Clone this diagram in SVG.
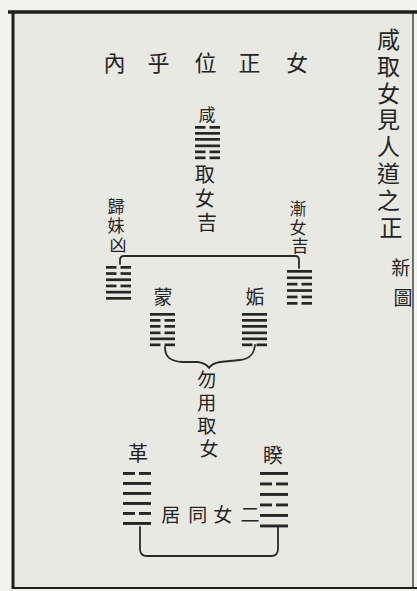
<svg xmlns="http://www.w3.org/2000/svg" xmlns:xlink="http://www.w3.org/1999/xlink" width="417" height="591" viewBox="0 0 417 591">
<style>
  .t { font-family: "Noto Sans CJK TC", "Noto Sans CJK SC", sans-serif; fill: #242424; text-anchor: middle; }
  .ln { fill: #262626; }
  .con { fill: none; stroke: #2a2a2a; stroke-width: 1.8; stroke-linecap: round; stroke-linejoin: round; }
  .frame { stroke: #1e1e1e; fill: none; }
</style>
<defs>
  <g id="yang"><rect x="0" y="0" width="25" height="2.7" class="ln"/></g>
  <g id="yin"><rect x="0" y="0" width="10.5" height="2.7" class="ln"/><rect x="14.5" y="0" width="10.5" height="2.7" class="ln"/></g>
  <g id="yangL"><rect x="0" y="0" width="28" height="2.9" class="ln"/></g>
  <g id="yinL"><rect x="0" y="0" width="12" height="2.9" class="ln"/><rect x="16" y="0" width="12" height="2.9" class="ln"/></g>
</defs>

<rect x="0" y="0" width="417" height="591" fill="#f2f2ef"/>
<rect x="13" y="12" width="401" height="576" fill="#e9e9e4"/>

<g id="frame" class="frame">
  <line x1="8" y1="12" x2="417" y2="12" stroke-width="3.5"/>
  <line x1="13" y1="11" x2="13" y2="589" stroke-width="3"/>
  <line x1="12" y1="588" x2="417" y2="588" stroke-width="2"/>
  <line x1="413" y1="12" x2="413" y2="588" stroke-width="1.2"/>
</g>

<g id="title">
  <text class="t" font-size="23">
    <tspan x="391" y="48">咸</tspan>
    <tspan x="391" y="75">取</tspan>
    <tspan x="391" y="102">女</tspan>
    <tspan x="391" y="128">見</tspan>
    <tspan x="391" y="155">人</tspan>
    <tspan x="391" y="182">道</tspan>
    <tspan x="391" y="209">之</tspan>
    <tspan x="391" y="236">正</tspan>
  </text>
  <text class="t" font-size="19">
    <tspan x="403" y="275">新</tspan>
    <tspan x="403" y="305">圖</tspan>
  </text>
</g>

<g id="header">
  <text class="t" font-size="22">
    <tspan x="117" y="71">內</tspan>
    <tspan x="161" y="71">乎</tspan>
    <tspan x="208" y="71">位</tspan>
    <tspan x="252" y="71">正</tspan>
    <tspan x="297" y="71">女</tspan>
  </text>
</g>

<g id="xian">
  <text class="t" font-size="17" x="207" y="121">咸</text>
  <g transform="translate(195,126)">
    <use xlink:href="#yin" y="0"/>
    <use xlink:href="#yang" y="6"/>
    <use xlink:href="#yang" y="12"/>
    <use xlink:href="#yang" y="18.5"/>
    <use xlink:href="#yin" y="24.5"/>
    <use xlink:href="#yin" y="30.5"/>
  </g>
  <text class="t" font-size="20">
    <tspan x="207" y="182">取</tspan>
    <tspan x="207" y="206">女</tspan>
    <tspan x="207" y="230">吉</tspan>
  </text>
</g>

<g id="guimei">
  <text class="t" font-size="17">
    <tspan x="118" y="213">歸</tspan>
    <tspan x="118" y="232">妹</tspan>
    <tspan x="118" y="251">凶</tspan>
  </text>
  <g transform="translate(106,266)">
    <use xlink:href="#yin" y="0"/>
    <use xlink:href="#yin" y="6.2"/>
    <use xlink:href="#yang" y="12.4"/>
    <use xlink:href="#yin" y="18.6"/>
    <use xlink:href="#yang" y="24.8"/>
    <use xlink:href="#yang" y="31"/>
  </g>
</g>

<g id="jian">
  <text class="t" font-size="17">
    <tspan x="300" y="215">漸</tspan>
    <tspan x="300" y="234">女</tspan>
    <tspan x="300" y="252">吉</tspan>
  </text>
  <g transform="translate(287,270)">
    <use xlink:href="#yang" y="0"/>
    <use xlink:href="#yang" y="6.4"/>
    <use xlink:href="#yin" y="12.8"/>
    <use xlink:href="#yang" y="19.2"/>
    <use xlink:href="#yin" y="25.6"/>
    <use xlink:href="#yin" y="32"/>
  </g>
</g>

<g id="meng">
  <text class="t" font-size="19" x="163" y="304">蒙</text>
  <g transform="translate(150,313)">
    <use xlink:href="#yang" y="0"/>
    <use xlink:href="#yin" y="6"/>
    <use xlink:href="#yin" y="12"/>
    <use xlink:href="#yin" y="18.5"/>
    <use xlink:href="#yang" y="24.5"/>
    <use xlink:href="#yin" y="30.5"/>
  </g>
</g>

<g id="gou">
  <text class="t" font-size="19" x="255" y="304">姤</text>
  <g transform="translate(242,313)">
    <use xlink:href="#yang" y="0"/>
    <use xlink:href="#yang" y="6"/>
    <use xlink:href="#yang" y="12"/>
    <use xlink:href="#yang" y="18.5"/>
    <use xlink:href="#yang" y="24.5"/>
    <use xlink:href="#yin" y="30.5"/>
  </g>
</g>

<g id="wuyong">
  <text class="t" font-size="19">
    <tspan x="209" y="387">勿</tspan>
    <tspan x="209" y="410">用</tspan>
    <tspan x="209" y="433">取</tspan>
    <tspan x="209" y="456">女</tspan>
  </text>
</g>

<g id="ge">
  <text class="t" font-size="20" x="138" y="461">革</text>
  <g transform="translate(123,472)">
    <use xlink:href="#yinL" y="0"/>
    <use xlink:href="#yangL" y="10"/>
    <use xlink:href="#yangL" y="20"/>
    <use xlink:href="#yangL" y="30"/>
    <use xlink:href="#yinL" y="40"/>
    <use xlink:href="#yangL" y="50"/>
  </g>
</g>

<g id="kui">
  <text class="t" font-size="20" x="273" y="463">睽</text>
  <g transform="translate(260,472)">
    <use xlink:href="#yangL" y="0"/>
    <use xlink:href="#yinL" y="10.5"/>
    <use xlink:href="#yangL" y="21"/>
    <use xlink:href="#yinL" y="31.5"/>
    <use xlink:href="#yangL" y="42"/>
    <use xlink:href="#yangL" y="52.5"/>
  </g>
</g>

<g id="ernv">
  <text class="t" font-size="19">
    <tspan x="173" y="522">居</tspan>
    <tspan x="200" y="522">同</tspan>
    <tspan x="225" y="522">女</tspan>
    <tspan x="250" y="522">二</tspan>
  </text>
</g>

<g id="connectors">
  <path class="con" d="M120 264 L120 260 Q120 256 124 256 L295 256 Q299 256 299 260 L299 268"/>
  <path class="con" d="M165 347 C165 357 170 361 182 362 L198 362 C204 363 207 365 209 368 C211 365 214 363 220 362 L240 360 C250 359 254 354 255 345"/>
  <path class="con" d="M140 527 L140 549 Q140 556 147 556 L271 556 Q278 556 278 549 L278 527"/>
</g>
</svg>
